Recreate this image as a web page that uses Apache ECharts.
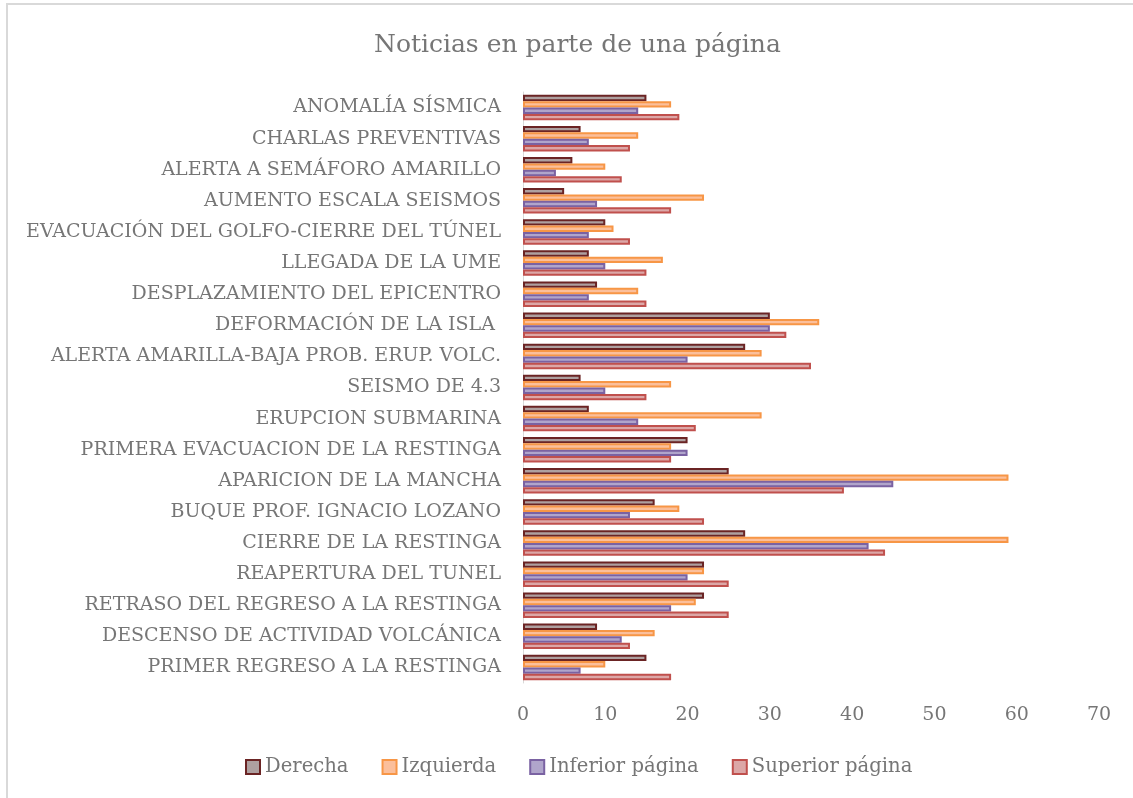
<!DOCTYPE html>
<html>
<head>
<meta charset="utf-8">
<script src="https://cdn.jsdelivr.net/npm/echarts@6/dist/echarts.min.js"></script>
<style>
    html, body { margin: 0; padding: 0; background: #fff; }
    #chart { width: 1133px; height: 798px; }
</style>
</head>
<body>
<div id="chart"></div>
<script>
// categorías, de arriba hacia abajo
var categories = [
    'ANOMALÍA SÍSMICA',
    'CHARLAS PREVENTIVAS',
    'ALERTA A SEMÁFORO AMARILLO',
    'AUMENTO ESCALA SEISMOS',
    'EVACUACIÓN DEL GOLFO-CIERRE DEL TÚNEL',
    'LLEGADA DE LA UME',
    'DESPLAZAMIENTO DEL EPICENTRO',
    'DEFORMACIÓN DE LA ISLA ',
    'ALERTA AMARILLA-BAJA PROB. ERUP. VOLC.',
    'SEISMO DE 4.3',
    'ERUPCION SUBMARINA',
    'PRIMERA EVACUACION DE LA RESTINGA',
    'APARICION DE LA MANCHA',
    'BUQUE PROF. IGNACIO LOZANO',
    'CIERRE DE LA RESTINGA',
    'REAPERTURA DEL TUNEL',
    'RETRASO DEL REGRESO A LA RESTINGA',
    'DESCENSO DE ACTIVIDAD VOLCÁNICA',
    'PRIMER REGRESO A LA RESTINGA'
];

var derecha   = [15, 7, 6, 5, 10, 8, 9, 30, 27, 7, 8, 20, 25, 16, 27, 22, 22, 9, 15];
var izquierda = [18, 14, 10, 22, 11, 17, 14, 36, 29, 18, 29, 18, 59, 19, 59, 22, 21, 16, 10];
var inferior  = [14, 8, 4, 9, 8, 10, 8, 30, 20, 10, 14, 20, 45, 13, 42, 20, 18, 12, 7];
var superior  = [19, 13, 12, 18, 13, 15, 15, 32, 35, 15, 21, 18, 39, 22, 44, 25, 25, 13, 18];

var xTicks = [0, 10, 20, 30, 40, 50, 60, 70];

(function () {
    var myChart = echarts.init(document.getElementById('chart'));
    var font = 'DejaVu Serif';
    var gris = '#767676';

    function serie(name, data, fill, border) {
        return {
            name: name,
            type: 'bar',
            data: data,
            barGap: '0%',
            barCategoryGap: '18%',
            itemStyle: {
                color: fill,
                borderColor: border,
                borderWidth: 2
            },
            emphasis: { disabled: true }
        };
    }

    var option = {
        animation: false,
        backgroundColor: '#fff',
        title: {
            text: 'Noticias en parte de una página',
            left: 369,
            top: 28,
            textStyle: {
                fontFamily: font,
                fontSize: 25,
                fontWeight: 'normal',
                color: gris
            }
        },
        legend: {
            top: 752,
            left: 240,
            itemWidth: 14,
            itemHeight: 14,
            itemGap: 33,
            icon: 'rect',
            textStyle: {
                fontFamily: font,
                fontSize: 19.6,
                color: gris,
                padding: [0, 0, 0, 0]
            },
            data: ['Derecha', 'Izquierda', 'Inferior página', 'Superior página']
        },
        grid: {
            left: 523,
            right: 34,
            top: 92,
            bottom: 115,
            containLabel: false
        },
        xAxis: {
            type: 'value',
            min: 0,
            max: 70,
            interval: 10,
            splitLine: { show: false },
            axisLine: { show: false },
            axisTick: { show: false },
            axisLabel: {
                fontFamily: font,
                fontSize: 19,
                color: gris,
                margin: 23,
                formatter: function (v) { return xTicks.indexOf(v) >= 0 ? v : ''; }
            }
        },
        yAxis: {
            type: 'category',
            inverse: true,
            data: categories,
            axisLine: { show: true, lineStyle: { color: '#d9d9d9', width: 1 } },
            axisTick: { show: false },
            axisLabel: {
                fontFamily: font,
                fontSize: 19,
                color: gris,
                margin: 22
            }
        },
        series: [
            serie('Derecha', derecha, 'rgba(140,120,120,0.7)', '#6b2424'),
            serie('Izquierda', izquierda, 'rgba(250,175,130,0.8)', '#f79646'),
            serie('Inferior página', inferior, 'rgba(150,135,185,0.75)', '#7a62a2'),
            serie('Superior página', superior, 'rgba(205,130,130,0.7)', '#c0504d')
        ],
        graphic: [{
            type: 'polyline',
            shape: { points: [[7, 798], [7, 4], [1133, 4]] },
            style: { fill: 'none', stroke: '#d9d9d9', lineWidth: 2 },
            silent: true
        }]
    };

    myChart.setOption(option);

    window.addEventListener('resize', function () {
        myChart.resize();
    });
})();
</script>
</body>
</html>
